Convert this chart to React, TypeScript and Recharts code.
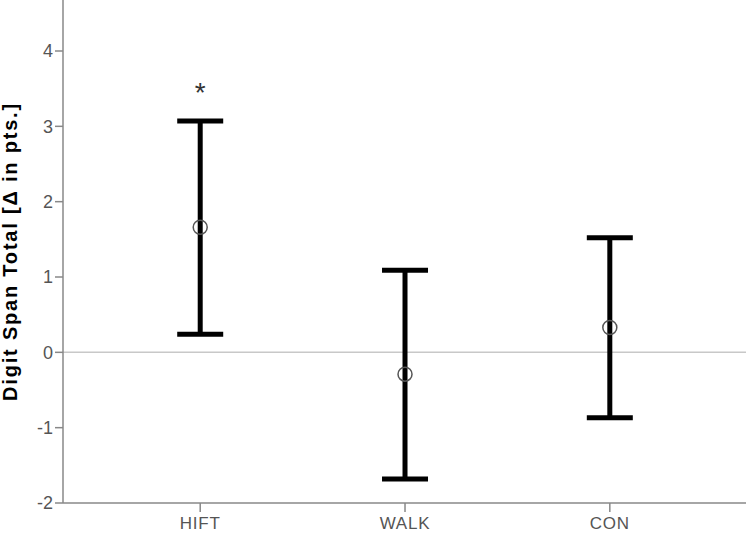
import React from 'react';
import { ComposedChart, Scatter, ErrorBar, XAxis, YAxis, ReferenceLine, Label } from 'recharts';

const categories = ['HIFT', 'WALK', 'CON'];
const means = [1.66, -0.29, 0.33];
const upper = [3.07, 1.09, 1.52];
const lower = [0.24, -1.68, -0.87];
const marks = ['*', '', ''];
const markValues = [3.54, 0, 0];
const yTicks = [-2, -1, 0, 1, 2, 3, 4];

const FONT = "Arial, 'Liberation Sans', sans-serif";

const points = categories.map((c, i) => ({
  x: i + 1,
  y: means[i],
  err: [means[i] - lower[i], upper[i] - means[i]],
}));

const stars = categories
  .map((c, i) => ({ x: i + 1, y: markValues[i], mark: marks[i] }))
  .filter((d) => d.mark !== '');

function MeanCircle(props: any) {
  return <circle cx={props.cx} cy={props.cy} r={7} fill="none" stroke="#555" strokeWidth={1.5} />;
}

function StarMark(props: any) {
  return (
    <text x={props.cx} y={props.cy + 16} textAnchor="middle" fontSize={28} fill="#333" fontFamily={FONT}>
      {props.payload.mark}
    </text>
  );
}

function YTitle(props: any) {
  const vb = props.viewBox;
  const cx = vb.x + 10;
  const cy = vb.y + vb.height / 2;
  return (
    <text x={cx} y={cy} transform={`rotate(-90 ${cx} ${cy})`} textAnchor="middle" dominantBaseline="central"
      fontSize={20} fontWeight="bold" letterSpacing={1.8} fill="#000" fontFamily={FONT}>
      Digit Span Total [Δ in pts.]
    </text>
  );
}

export default function App() {
  return (
    <div style={{ position: 'absolute', left: 0, top: 0, width: 749, height: 535, background: '#fff' }}>
      <ComposedChart width={749} height={535} margin={{ top: 0, right: 3, bottom: 0, left: 0 }}>
        <XAxis
          type="number"
          dataKey="x"
          domain={[0.33, 3.665]}
          ticks={[1, 2, 3]}
          tickFormatter={(v: number) => categories[v - 1]}
          height={32}
          stroke="#888"
          strokeWidth={1.5}
          tickSize={9}
          tickMargin={5}
          tick={{ fill: '#555', fontSize: 17, letterSpacing: 0.8, fontFamily: FONT }}
        />
        <YAxis
          type="number"
          dataKey="y"
          domain={[-2, 4.677]}
          ticks={yTicks}
          width={63}
          stroke="#888"
          strokeWidth={1.5}
          tickSize={8}
          tickMargin={2}
          tick={{ fill: '#555', fontSize: 18, fontFamily: FONT }}
        >
          <Label content={YTitle} />
        </YAxis>
        <ReferenceLine y={0} stroke="#c8c8c8" strokeWidth={1.5} />
        <Scatter data={points} shape={MeanCircle} isAnimationActive={false}>
          <ErrorBar dataKey="err" direction="y" width={23} strokeWidth={5} stroke="#000" isAnimationActive={false} />
        </Scatter>
        <Scatter data={stars} shape={StarMark} isAnimationActive={false} />
      </ComposedChart>
    </div>
  );
}
